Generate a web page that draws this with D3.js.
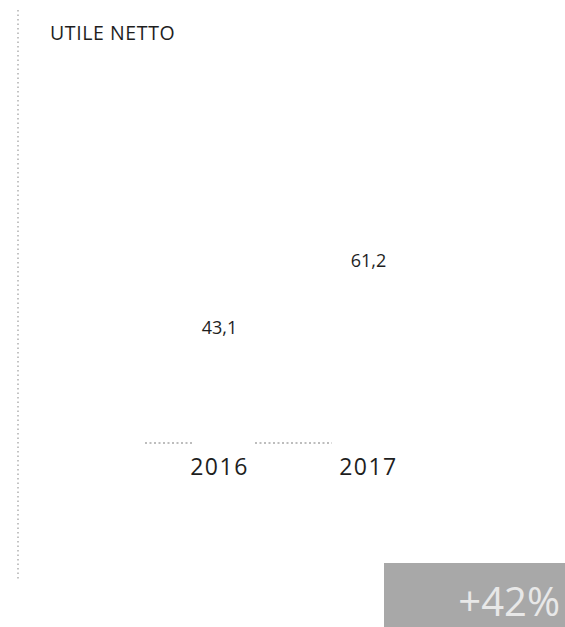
<!DOCTYPE html>
<html><head><meta charset="utf-8">
<script src="https://cdn.jsdelivr.net/npm/d3@7"></script>
<style>body{margin:0;background:#fff}svg{display:block}</style>
</head><body>
<svg id="c" width="565" height="627"></svg>
<script>
const title = "UTILE NETTO";
const years = ["2016", "2017"];
const values = [43.1, 61.2];
const valueLabels = ["43,1", "61,2"];
const changeLabel = "+42%";

const svg = d3.select("#c");
const W = 565, H = 627;
const baseY = 443;

const x = d3.scaleBand().domain(years).range([148, 440]).paddingInner(0.04);
const y = d3.scaleLinear().domain([0, 61.2]).range([baseY, 217]);

// left dotted rule
svg.append("line").attr("x1",18).attr("x2",18).attr("y1",10).attr("y2",580)
  .attr("stroke","#b0b0b0").attr("stroke-width",1.5).attr("stroke-dasharray","1.5,3");

// title
svg.append("text").attr("x",50).attr("y",40).text(title)
  .attr("font-family","'Open Sans',sans-serif")
  .attr("font-size",19.5).attr("fill","#1e1e1e").attr("letter-spacing",0.6);

// bars (washed out in the scan, invisible)
svg.selectAll("rect.bar").data(values).join("rect").attr("class","bar")
  .attr("x",(d,i)=>x(years[i])).attr("width",x.bandwidth())
  .attr("y",d=>y(d)).attr("height",d=>baseY-y(d))
  .attr("fill","#ffffff");

// baseline dotted
svg.append("line").attr("x1",145).attr("x2",192).attr("y1",baseY).attr("y2",baseY)
  .attr("stroke","#bdbdbd").attr("stroke-width",2).attr("stroke-dasharray","2,2.5");
svg.append("line").attr("x1",255).attr("x2",332).attr("y1",baseY).attr("y2",baseY)
  .attr("stroke","#bdbdbd").attr("stroke-width",2).attr("stroke-dasharray","2,2.5");

// value labels
svg.selectAll("text.val").data(values).join("text").attr("class","val")
  .attr("x",(d,i)=>x(years[i])+x.bandwidth()/2)
  .attr("y",d=>y(d)+50)
  .attr("text-anchor","middle")
  .attr("font-family","'Open Sans',sans-serif").attr("font-size",18)
  .attr("fill","#1e1e1e")
  .text((d,i)=>valueLabels[i]);

// year labels
svg.selectAll("text.yr").data(years).join("text").attr("class","yr")
  .attr("x",d=>x(d)+x.bandwidth()/2)
  .attr("y",475)
  .attr("text-anchor","middle")
  .attr("font-family","'Open Sans',sans-serif").attr("font-size",23)
  .attr("letter-spacing",1.5)
  .attr("fill","#1e1e1e")
  .text(d=>d);

// change box
svg.append("rect").attr("x",384).attr("y",563).attr("width",W-384).attr("height",H-563)
  .attr("fill","#a8a8a8");
svg.append("text").attr("x",560).attr("y",616).attr("text-anchor","end")
  .attr("font-family","'Open Sans',sans-serif").attr("font-size",40)
  .attr("fill","#e8e8e8").text(changeLabel);
</script>
</body></html>
